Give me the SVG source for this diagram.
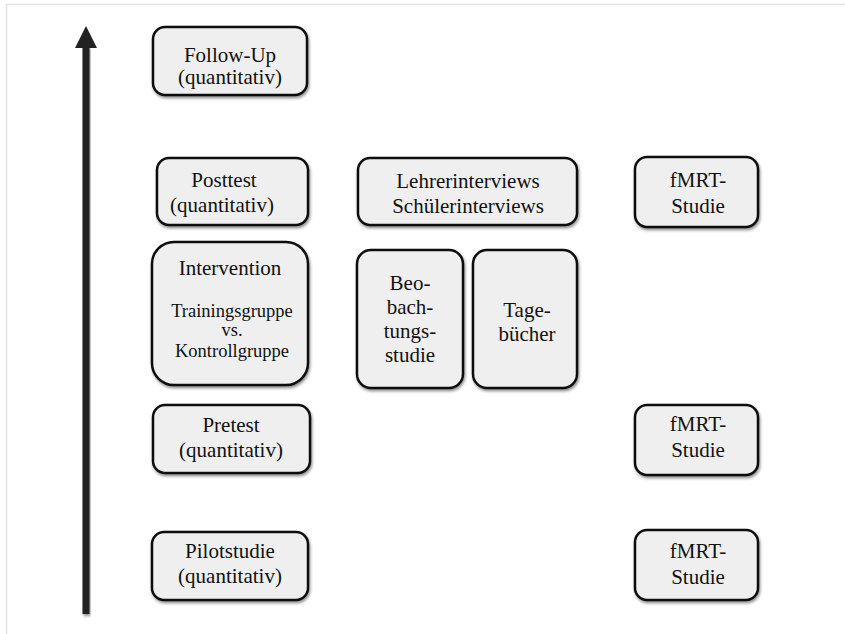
<svg xmlns="http://www.w3.org/2000/svg" width="845" height="634" viewBox="0 0 845 634">
<defs>
<filter id="sh" x="-10%" y="-10%" width="130%" height="130%">
<feGaussianBlur in="SourceAlpha" stdDeviation="1.5"/>
<feOffset dx="1" dy="2" result="b"/>
<feComponentTransfer><feFuncA type="linear" slope="0.45"/></feComponentTransfer>
<feMerge><feMergeNode/><feMergeNode in="SourceGraphic"/></feMerge>
</filter>
</defs>
<style>
.box{fill:#efefef;stroke:#111;stroke-width:2.5;filter:url(#sh)}
.t{font-family:"Liberation Serif","Times New Roman",serif;font-size:21px;fill:#111;text-anchor:middle}
.s{font-size:18.5px}
</style>
<rect width="845" height="634" fill="#fff"/>
<path d="M6.5,634 V4.5 H845" fill="none" stroke="#e4e4e4" stroke-width="1.5"/>
<g id="connectors">
<rect x="82.5" y="46" width="7" height="568" fill="#222" filter="url(#sh)"/>
<polygon points="86,26 97,48 75,48" fill="#222"/>
</g>
<g id="followup">
<rect class="box" x="153" y="27" width="154" height="68" rx="12"/>
<text class="t" x="230" y="62">Follow-Up</text>
<text class="t" x="230" y="84">(quantitativ)</text>
</g>
<g id="posttest">
<rect class="box" x="157" y="158" width="151" height="67" rx="12"/>
<text class="t" x="224" y="187">Posttest</text>
<text class="t" x="222" y="212">(quantitativ)</text>
</g>
<g id="interviews">
<rect class="box" x="358" y="158" width="219" height="67" rx="12"/>
<text class="t" x="468" y="188">Lehrerinterviews</text>
<text class="t" x="468" y="213">Schülerinterviews</text>
</g>
<g id="fmrt1">
<rect class="box" x="635" y="157" width="123" height="70" rx="12"/>
<text class="t" x="698" y="187">fMRT-</text>
<text class="t" x="698" y="213">Studie</text>
</g>
<g id="intervention">
<rect class="box" x="152" y="242" width="156" height="143" rx="22"/>
<text class="t" x="230" y="275">Intervention</text>
<text class="t s" x="232" y="317">Trainingsgruppe</text>
<text class="t s" x="232" y="336">vs.</text>
<text class="t s" x="232" y="357">Kontrollgruppe</text>
</g>
<g id="beobachtung">
<rect class="box" x="357" y="250" width="106" height="138" rx="14"/>
<text class="t" x="410" y="290">Beo-</text>
<text class="t" x="410" y="314">bach-</text>
<text class="t" x="410" y="338">tungs-</text>
<text class="t" x="410" y="362">studie</text>
</g>
<g id="tagebuecher">
<rect class="box" x="473" y="250" width="104" height="138" rx="14"/>
<text class="t" x="527" y="317">Tage-</text>
<text class="t" x="527" y="341">bücher</text>
</g>
<g id="pretest">
<rect class="box" x="153" y="405" width="157" height="68" rx="12"/>
<text class="t" x="231" y="432">Pretest</text>
<text class="t" x="231" y="457">(quantitativ)</text>
</g>
<g id="fmrt2">
<rect class="box" x="635" y="405" width="123" height="70" rx="12"/>
<text class="t" x="698" y="431">fMRT-</text>
<text class="t" x="698" y="457">Studie</text>
</g>
<g id="pilot">
<rect class="box" x="152" y="532" width="156" height="68" rx="12"/>
<text class="t" x="230" y="558">Pilotstudie</text>
<text class="t" x="230" y="583">(quantitativ)</text>
</g>
<g id="fmrt3">
<rect class="box" x="635" y="530" width="123" height="70" rx="12"/>
<text class="t" x="698" y="558">fMRT-</text>
<text class="t" x="698" y="584">Studie</text>
</g>
</svg>
